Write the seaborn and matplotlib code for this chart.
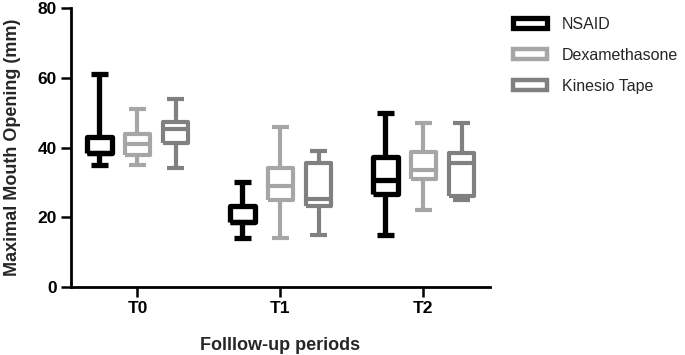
import numpy as np
import pandas as pd
import seaborn as sns
import matplotlib.pyplot as plt
from matplotlib.colors import to_hex
from matplotlib.patches import Patch

periods = ['T0', 'T1', 'T2']
groups = ['NSAID', 'Dexamethasone', 'Kinesio Tape']
colors = ['#000000', '#a6a6a6', '#808080']
yticks = [0, 20, 40, 60, 80]

# five-number summaries (min, Q1, median, Q3, max)
nsaid = [[35, 38.5, 38.5, 43, 61], [14, 18.5, 18.5, 23.3, 30], [15, 26.7, 30.7, 37.4, 50]]
dexa = [[35, 37.8, 41, 44, 51], [14, 25, 29, 34, 46], [22, 30.9, 33.5, 38.8, 47]]
kinesio = [[34, 41.4, 45.2, 47.4, 54], [15, 23.2, 25.2, 35.6, 39], [25, 26.1, 35.6, 38.5, 47]]

rows = []
for g, series in zip(groups, [nsaid, dexa, kinesio]):
    for p, vals in zip(periods, series):
        for v in vals:
            rows.append({'period': p, 'group': g, 'value': v})
df = pd.DataFrame(rows)

sns.set_style('ticks')
plt.rcParams['font.family'] = ['Liberation Sans', 'DejaVu Sans']

fig = plt.figure(figsize=(6.85, 3.55), dpi=100)
ax = fig.add_axes([0.1036, 0.1915, 0.6117, 0.786])

sns.boxplot(data=df, x='period', y='value', hue='group', order=periods,
            hue_order=groups, palette=colors, whis=(0, 100), fill=False,
            width=0.8, gap=0.35, linewidth=3.2, legend=False, ax=ax)

# thicker black lines, wider caps (as in the original)
for line in ax.lines:
    line.set_solid_capstyle('butt')
    black = to_hex(line.get_color()) == '#000000'
    line.set_linewidth(3.8 if black else 3.0)
    x, y = np.asarray(line.get_xdata(), float), np.asarray(line.get_ydata(), float)
    if len(x) == 2 and y[0] == y[1] and abs(x[1] - x[0]) < 0.12:
        c = x.mean()
        line.set_xdata(c + (x - c) * 1.4)

ax.set_ylim(0, 80)
ax.set_xlim(-0.465, 2.465)
ax.set_yticks(yticks)
ax.set_yticklabels([str(t) for t in yticks], fontsize=12.5, fontweight='bold')
ax.set_xticks(range(len(periods)))
ax.set_xticklabels(periods, fontsize=12.5, fontweight='bold')
ax.set_ylabel('Maximal Mouth Opening (mm)', fontsize=13, fontweight='bold', va='center')
ax.set_xlabel('Folllow-up periods', fontsize=13, fontweight='bold', va='center')
ax.yaxis.set_label_coords(-0.14, 0.5)
ax.xaxis.set_label_coords(0.5, -0.208)
ax.tick_params(width=1.8, length=7, pad=3, colors='black')
sns.despine(ax=ax)
for s in ['left', 'bottom']:
    ax.spines[s].set_linewidth(2)
    ax.spines[s].set_color('black')

handles = [Patch(facecolor='white', edgecolor=c, linewidth=3.8 if i == 0 else 3.2, label=g)
           for i, (g, c) in enumerate(zip(groups, colors))]
fig.legend(handles=handles, loc='upper left', bbox_to_anchor=(0.7396, 0.970),
           borderaxespad=0, frameon=False, fontsize=11.5, handlelength=2.1,
           handleheight=0.6, labelspacing=1.0, handletextpad=0.95)

fig.savefig('out.png', dpi=100)
